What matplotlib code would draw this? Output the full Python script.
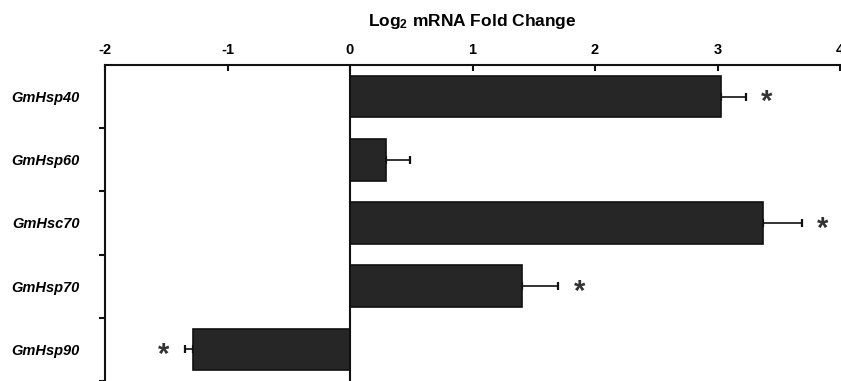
import numpy as np
import matplotlib
matplotlib.use("Agg")
import matplotlib.pyplot as plt

plt.rcParams['font.family'] = ['Liberation Sans', 'DejaVu Sans']
plt.rcParams['mathtext.fontset'] = 'custom'
plt.rcParams['mathtext.bf'] = 'Liberation Sans:bold'
plt.rcParams['mathtext.rm'] = 'Liberation Sans'

# data
genes = ['GmHsp40', 'GmHsp60', 'GmHsc70', 'GmHsp70', 'GmHsp90']
fold_change = [3.03, 0.29, 3.37, 1.40, -1.28]
sem = [0.20, 0.20, 0.32, 0.30, 0.07]
significant = [True, False, True, True, True]
x_ticks = [-2, -1, 0, 1, 2, 3, 4]

fig = plt.figure(figsize=(8.41, 3.81), dpi=100)
ax = fig.add_axes([105 / 841, 0, 735 / 841, 316 / 381])

y = np.arange(len(genes))
vals = np.array(fold_change)
errs = np.array(sem)
# error bars drawn only on the outer side of each bar
lower = np.where(vals < 0, errs, 0)
upper = np.where(vals >= 0, errs, 0)

ax.barh(y, vals, height=0.66, color='#262626', edgecolor='#111111', linewidth=1.2, zorder=2)
ax.errorbar(vals, y, xerr=[lower, upper], fmt='none', ecolor='#111111',
            elinewidth=1.2, capsize=2.6, capthick=1.6, zorder=1)

for yi, v, e, sig in zip(y, vals, errs, significant):
    if not sig:
        continue
    xs = v + e + 0.17 if v >= 0 else v - e - 0.17
    ax.text(xs, yi + 0.09, '*', ha='center', va='center', fontsize=21,
            fontweight='bold', color='#333333')

ax.axvline(0, color='#111111', lw=1.5, zorder=3)

ax.set_xlim(-2, 4)
ax.set_ylim(len(genes) - 0.5625, -0.5)

ax.xaxis.tick_top()
ax.xaxis.set_label_position('top')
ax.set_xticks(x_ticks)
ax.set_xticklabels([str(t) for t in x_ticks], fontsize=10.5, fontweight='bold')
ax.tick_params(axis='x', direction='in', length=4, width=1.5, pad=6, color='#111111')
ax.set_xlabel(r'Log$\mathbf{_2}$ mRNA Fold Change', fontsize=12.5, fontweight='bold', labelpad=12)

ax.set_yticks(y)
ax.set_yticklabels(genes, fontsize=10.5, fontweight='bold', fontstyle='italic')
ax.set_yticks(np.arange(len(genes)) + 0.5, minor=True)
ax.tick_params(axis='y', which='major', length=0, pad=18)
ax.tick_params(axis='y', which='minor', direction='out', length=4, width=1.5, color='#111111')

for side in ['bottom', 'right']:
    ax.spines[side].set_visible(False)
for side in ['top', 'left']:
    ax.spines[side].set_linewidth(1.5)
    ax.spines[side].set_color('#111111')

fig.savefig('out.png', dpi=100)
